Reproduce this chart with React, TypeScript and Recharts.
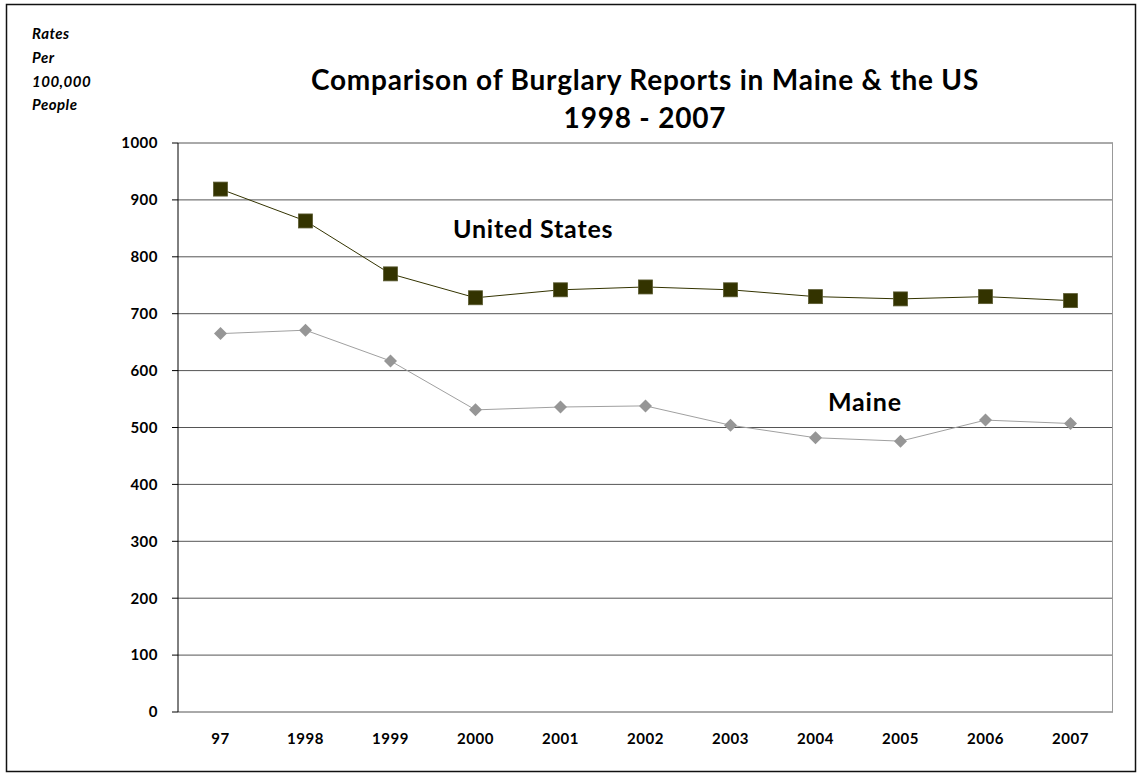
import React from "react";
import { LineChart, Line, XAxis, YAxis, CartesianGrid } from "recharts";

const categories = ["97", "1998", "1999", "2000", "2001", "2002", "2003", "2004", "2005", "2006", "2007"];
const usValues = [919, 863, 770, 728, 742, 747, 742, 730, 726, 730, 723];
const maineValues = [665, 671, 617, 531, 536, 538, 504, 482, 476, 513, 507];
const yTicks = [0, 100, 200, 300, 400, 500, 600, 700, 800, 900, 1000];
const boundaryTicks = categories.map((_, i) => i).concat([categories.length]);
const centerTicks = categories.map((_, i) => i + 0.5);

const data = categories.map((c, i) => ({ x: i + 0.5, cat: c, us: usValues[i], maine: maineValues[i] }));

const FONT = "Lato, 'Open Sans', sans-serif";

const SquareDot = (props: any) => {
  const { cx, cy } = props;
  if (cx == null || cy == null) return null;
  return <rect x={cx - 7} y={cy - 7} width={14} height={14} fill="#333300" stroke="#5a5a30" strokeWidth={0.8} />;
};

const DiamondDot = (props: any) => {
  const { cx, cy } = props;
  if (cx == null || cy == null) return null;
  const r = 6.5;
  return <polygon points={`${cx},${cy - r} ${cx + r},${cy} ${cx},${cy + r} ${cx - r},${cy}`} fill="#969696" />;
};

export default function App() {
  return (
    <div style={{ position: "absolute", left: 0, top: 0, width: 1138, height: 774, background: "#fff" }}>
      <svg width={1138} height={774} style={{ position: "absolute", left: 0, top: 0 }}>
        <rect x={6.5} y={4.5} width={1129} height={767} fill="#fff" stroke="#111" strokeWidth={1.5} />
      </svg>
      <div style={{ position: "absolute", left: 0, top: 0 }}>
        <LineChart
          width={1138}
          height={774}
          data={data}
          margin={{ top: 143, right: 25, left: 118, bottom: 32 }}
        >
          <CartesianGrid horizontal={true} vertical={false} stroke="#555" strokeWidth={1} />
          <XAxis
            xAxisId="b"
            dataKey="x"
            type="number"
            domain={[0, categories.length]}
            ticks={boundaryTicks}
            tick={false}
            tickSize={6}
            height={0}
            axisLine={{ stroke: "#000", strokeWidth: 1 }}
            tickLine={{ stroke: "#000" }}
            allowDataOverflow
          />
          <XAxis
            xAxisId="l"
            dataKey="x"
            type="number"
            domain={[0, categories.length]}
            ticks={centerTicks}
            tickFormatter={(v: number) => categories[Math.floor(v)]}
            axisLine={false}
            tickLine={false}
            height={30}
            tickMargin={15}
            tick={{ fill: "#000", fontSize: 15, fontWeight: 700, fontFamily: FONT, letterSpacing: 0.6 }}
            interval={0}
          />
          <YAxis
            type="number"
            domain={[0, 1000]}
            ticks={yTicks}
            width={60}
            tickSize={6}
            tickMargin={14}
            axisLine={{ stroke: "#000", strokeWidth: 1 }}
            tickLine={{ stroke: "#000" }}
            tick={{ fill: "#000", fontSize: 15, fontWeight: 700, fontFamily: FONT, letterSpacing: 0.5 }}
            interval={0}
          />
          <Line
            xAxisId="b"
            dataKey="us"
            stroke="#333300"
            strokeWidth={1}
            dot={<SquareDot />}
            activeDot={false}
            isAnimationActive={false}
          />
          <Line
            xAxisId="b"
            dataKey="maine"
            stroke="#a0a0a0"
            strokeWidth={1}
            dot={<DiamondDot />}
            activeDot={false}
            isAnimationActive={false}
          />
        </LineChart>
      </div>
      <svg width={1138} height={774} style={{ position: "absolute", left: 0, top: 0, pointerEvents: "none" }}>
        <line x1={1112.5} y1={143} x2={1112.5} y2={712} stroke="#999" strokeWidth={1} />
        <g fontFamily={FONT} fontWeight={700} fontSize={28} fill="#000" textAnchor="middle" letterSpacing={0.8}>
          <text x={645} y={90}>Comparison of Burglary Reports in Maine &amp; the US</text>
          <text x={645} y={128}>1998 - 2007</text>
        </g>
        <g fontFamily={FONT} fontWeight={700} fontStyle="italic" fontSize={15} fill="#000" letterSpacing={0.5}>
          <text x={32} y={39}>Rates</text>
          <text x={32} y={63}>Per</text>
          <text x={32} y={87}>100,000</text>
          <text x={32} y={110}>People</text>
        </g>
        <g fontFamily={FONT} fontWeight={700} fontSize={25} fill="#000" letterSpacing={0.8}>
          <text x={453} y={238}>United States</text>
          <text x={828} y={411}>Maine</text>
        </g>
      </svg>
    </div>
  );
}
